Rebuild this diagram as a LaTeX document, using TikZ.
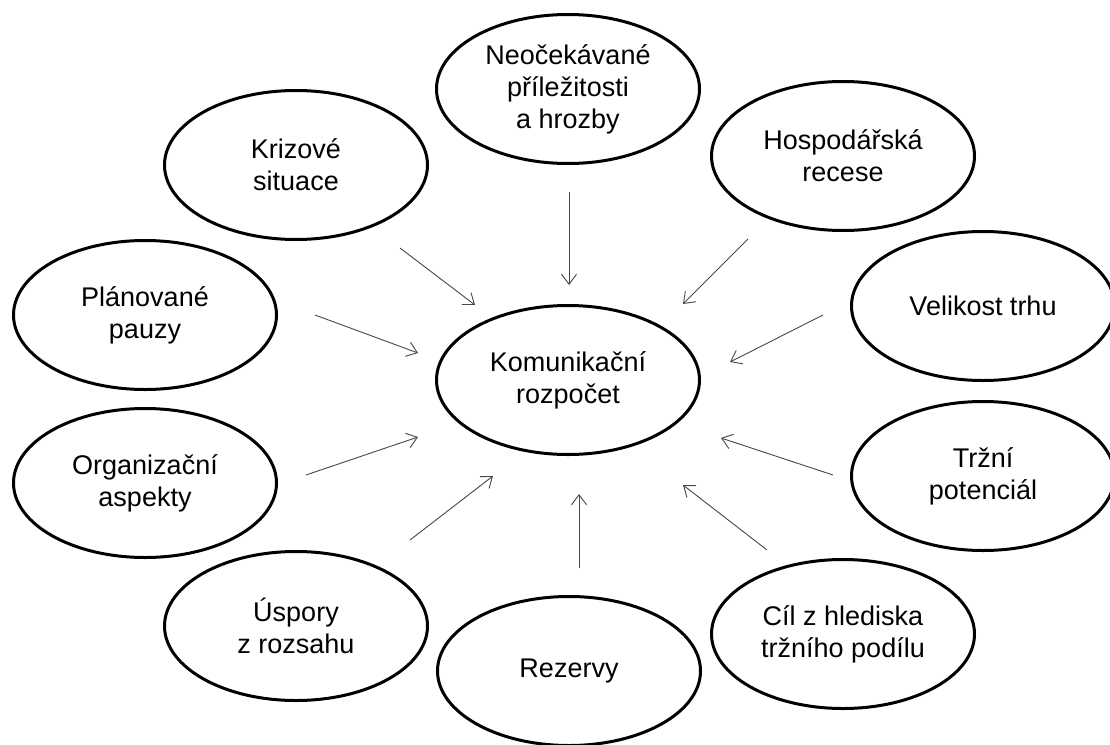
\documentclass[tikz,border=0pt]{standalone}
\usepackage{fontspec}
\setmainfont{Liberation Sans}
\usetikzlibrary{shapes.geometric,arrows.meta}
\begin{document}
\begin{tikzpicture}[x=1pt,y=-1pt,
  oval/.style={ellipse,draw=black,line width=3pt,minimum width=263pt,minimum height=149pt,inner sep=0pt,align=center,font=\fontsize{27}{32}\selectfont},
  arr/.style={draw=black!72,line width=0.9pt,-{Straight Barb[length=10pt,width=15pt,line width=0.9pt]}}]
\useasboundingbox (0,0) rectangle (1110,744);
\fill[white] (0,0) rectangle (1110,744);
\node[oval] (komu) at (568,380) {Komunikační\\rozpočet};
\node[oval] (neoc) at (568,89) {Neočekávané\\příležitosti\\a hrozby};
\node[oval] (kriz) at (296,165) {Krizové\\situace};
\node[oval] (hosp) at (843,156) {Hospodářská\\recese};
\node[oval] (plan) at (145,315) {Plánované\\pauzy};
\node[oval] (veli) at (983,306) {Velikost trhu};
\node[oval] (orga) at (145,483) {Organizační\\aspekty};
\node[oval] (trzn) at (983,476) {Tržní\\potenciál};
\node[oval] (uspo) at (296,626) {Úspory\\z rozsahu};
\node[oval] (reze) at (569,671) {Rezervy};
\node[oval] (cil) at (843,634) {Cíl z hlediska\\tržního podílu};
% arrow end points
\coordinate (s1) at (569,192); \coordinate (e1) at (569,285);
\coordinate (s2) at (400,248); \coordinate (e2) at (475,305);
\coordinate (s3) at (748,239); \coordinate (e3) at (683,304);
\coordinate (s4) at (315,315); \coordinate (e4) at (418,353);
\coordinate (s5) at (823,315); \coordinate (e5) at (730,362);
\coordinate (s6) at (306,475); \coordinate (e6) at (418,437);
\coordinate (s7) at (833,475); \coordinate (e7) at (721,438);
\coordinate (s8) at (410,540); \coordinate (e8) at (493,476);
\coordinate (s9) at (579,568); \coordinate (e9) at (579,494);
\coordinate (s10) at (767,550); \coordinate (e10) at (683,485);
\foreach \i in {1,...,10} {\draw[arr] (s\i) -- (e\i);}
\end{tikzpicture}
\end{document}
